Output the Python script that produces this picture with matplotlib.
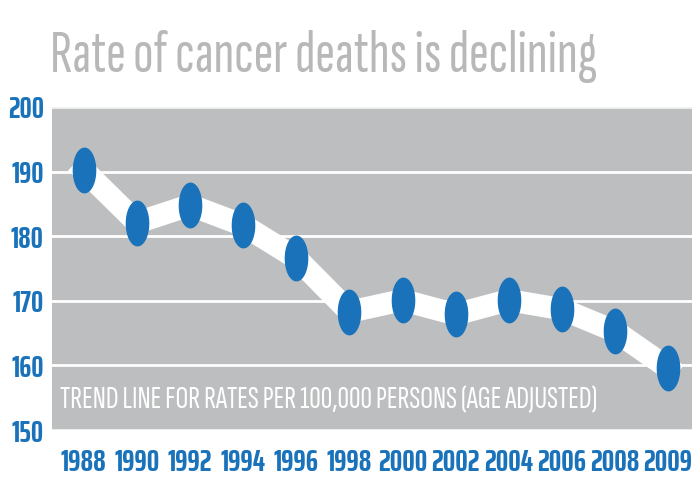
import numpy as np
import matplotlib
matplotlib.use("Agg")
import matplotlib.pyplot as plt
from matplotlib.path import Path

years = ["1988", "1990", "1992", "1994", "1996", "1998",
         "2000", "2002", "2004", "2006", "2008", "2009"]
rates = [190.2, 182.1, 184.8, 181.7, 176.6, 168.3,
         170.1, 167.9, 170.1, 168.7, 165.3, 159.6]
yticks = [150, 160, 170, 180, 190, 200]

title = "Rate of cancer deaths is declining"
note = "TREND LINE FOR RATES PER 100,000 PERSONS (AGE ADJUSTED)"

plt.rcParams["font.family"] = ["Sofia Sans Extra Condensed", "DejaVu Sans"]
tick_font = ["Saira ExtraCondensed", "Sofia Sans Extra Condensed", "DejaVu Sans"]

blue = "#1a73ba"
gray = "#bdbec0"

# tall ellipse marker (chart was squeezed sideways)
t = np.linspace(0, 2 * np.pi, 60)
ellipse = Path(np.column_stack([0.5 * np.cos(t), np.sin(t)]), closed=True)

fig = plt.figure(figsize=(6.92, 4.80), dpi=100)
ax = fig.add_axes([52 / 692, 50 / 480, 640 / 692, 323 / 480])
ax.set_facecolor(gray)

x = np.arange(len(years))
for v in yticks:
    ax.axhline(v, color="white", lw=2, alpha=0.8 if v in (150, 200) else 1, zorder=1)

ax.plot(x, rates, color="white", lw=16, solid_joinstyle="round", zorder=2)
ax.plot(x, rates, ls="none", marker=ellipse, ms=32, color=blue, zorder=3)

ax.set_xlim(-0.6, 11.45)
ax.set_ylim(150, 200)
ax.set_xticks(x)
ax.set_xticklabels(years)
ax.set_yticks(yticks)
ax.tick_params(length=0, colors=blue)
ax.tick_params(axis="x", pad=13, labelsize=22.5)
ax.tick_params(axis="y", pad=6, labelsize=22)
for lab in ax.get_xticklabels() + ax.get_yticklabels():
    lab.set_fontweight("bold")
    lab.set_family(tick_font)
for s in ax.spines.values():
    s.set_visible(False)

ax.text(0.012, 0.05, note, transform=ax.transAxes, color="white",
        fontsize=23, va="bottom")

fig.text(50 / 692, 408 / 480, title, color="#b8b8b8", fontsize=43,
         fontweight="medium", va="baseline")

fig.savefig("out.png", dpi=100)
